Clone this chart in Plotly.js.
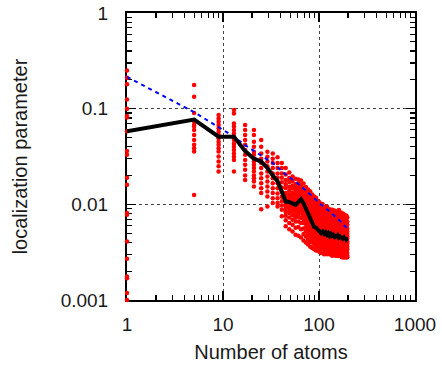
<!DOCTYPE html>
<html><head><meta charset="utf-8">
<script src="https://cdn.plot.ly/plotly-3.0.1.min.js"></script>
<style>html,body{margin:0;padding:0;background:#fff}#chart{width:442px;height:370px}</style>
</head><body><div id="chart"></div>
<script>
// ---- data ----
const atomCounts = [1,5,9,13,17,21,25,29,33,37,41,45,49,53,57,61,65,69,73,77,81,85,89,93,97,
  101,105,109,113,117,121,125,129,133,137,141,145,149,153,157,161,165,169,173,177,181,185,189,193,197];

const localizationSamples = [
  [0.25,0.21,0.18,0.125,0.10,0.084,0.081,0.058,0.036,0.033,0.019,0.016,0.0081,0.0078,0.0041,0.0027,0.00176,0.00169,0.00118,0.001],
  [0.177,0.133,0.09,0.076,0.073,0.0675,0.065,0.06,0.053,0.047,0.042,0.0386,0.0356,0.0125],
  [0.086,0.079,0.073,0.0675,0.0625,0.0575,0.053,0.049,0.045,0.042,0.0386,0.0356,0.0316,0.028,0.025,0.022],
  [0.097,0.089,0.070,0.065,0.060,0.055,0.051,0.047,0.043,0.040,0.037,0.034,0.0315,0.029,0.022],
  [0.0675,0.060,0.053,0.047,0.042,0.037,0.033,0.029,0.026,0.023,0.020,0.018],
  [0.060,0.053,0.045,0.040,0.0355,0.033,0.030,0.028,0.026,0.024,0.022,0.020,0.0187,0.0173,0.0154],
  [0.047,0.040,0.034,0.030,0.027,0.024,0.021,0.0187,0.0166,0.0147,0.0131,0.0089],
  [0.0355,0.0315,0.028,0.025,0.022,0.0195,0.0173,0.0154,0.0136,0.0121,0.0095],
  [0.034,0.030,0.027,0.024,0.021,0.0187,0.0166,0.0147,0.0131,0.0116,0.0103],
  [0.031,0.027,0.024,0.021,0.019,0.0166,0.0147,0.013,0.0116,0.0103,0.0095],
  [0.027,0.024,0.021,0.019,0.017,0.015,0.0135,0.012,0.0108,0.0097,0.0088,0.0075],
  [0.024,0.0205,0.018,0.0162,0.0148,0.0131,0.0122,0.0113,0.0104,0.0097,0.009,0.0083,0.0076,0.0068,0.0059],
  [0.0215,0.0188,0.0171,0.0153,0.0139,0.0127,0.0118,0.0109,0.0101,0.0093,0.0088,0.0081,0.0073,0.0064,0.0055],
  [0.0195,0.0175,0.0157,0.0146,0.0131,0.0121,0.0113,0.0104,0.0097,0.0091,0.0084,0.0077,0.0069,0.0061,0.0052],
  [0.0185,0.0163,0.0149,0.0137,0.0126,0.0115,0.0106,0.0099,0.0092,0.0086,0.0079,0.0073,0.0066,0.0057,0.0048],
  [0.0182,0.0166,0.0151,0.0139,0.0128,0.0119,0.011,0.0102,0.0095,0.0088,0.0081,0.0074,0.0066,0.0058,0.0047],
  [0.0178,0.016,0.0147,0.0136,0.0127,0.0118,0.011,0.0102,0.0094,0.0087,0.008,0.0072,0.0064,0.0055,0.0045],
  [0.0165,0.0148,0.0136,0.0124,0.0114,0.0106,0.0098,0.009,0.0083,0.0077,0.007,0.0064,0.0056,0.0049,0.0042],
  [0.0152,0.0138,0.0125,0.0114,0.0104,0.0096,0.0089,0.0082,0.0076,0.007,0.0064,0.0058,0.0052,0.0046,0.004],
  [0.0143,0.0128,0.0116,0.0106,0.0097,0.0089,0.0082,0.0076,0.007,0.0064,0.0059,0.0054,0.0049,0.0043,0.0038],
  [0.0136,0.012,0.0109,0.0099,0.009,0.0083,0.0076,0.007,0.0065,0.006,0.0055,0.0051,0.0046,0.0041,0.0036],
  [0.0127,0.0114,0.0102,0.0093,0.0085,0.0078,0.0071,0.0066,0.0061,0.0056,0.0052,0.0048,0.0044,0.004,0.0035],
  [0.0121,0.0107,0.0097,0.0088,0.008,0.0073,0.0067,0.0062,0.0058,0.0054,0.005,0.0046,0.0042,0.0038,0.0034],
  [0.0117,0.0103,0.0092,0.0083,0.0076,0.007,0.0064,0.006,0.0056,0.0052,0.0048,0.0045,0.0041,0.0037,0.0033],
  [0.0109,0.0099,0.0088,0.008,0.0073,0.0067,0.0062,0.0058,0.0054,0.005,0.0047,0.0043,0.004,0.0036,0.0033],
  [0.0105,0.0094,0.0085,0.0077,0.007,0.0064,0.0059,0.0055,0.0052,0.0049,0.0046,0.0042,0.0039,0.0035,0.0032],
  [0.0097,0.0089,0.0081,0.0074,0.0068,0.0063,0.0058,0.0054,0.0051,0.0047,0.0044,0.0041,0.0038,0.0034,0.0031],
  [0.0101,0.0088,0.0079,0.0072,0.0066,0.0061,0.0057,0.0053,0.005,0.0047,0.0044,0.004,0.0037,0.0034,0.0031],
  [0.0093,0.0085,0.0077,0.0071,0.0065,0.006,0.0056,0.0053,0.0049,0.0046,0.0043,0.004,0.0037,0.0033,0.003],
  [0.0091,0.0081,0.0075,0.0069,0.0063,0.0059,0.0055,0.0052,0.0049,0.0046,0.0043,0.0039,0.0036,0.0034,0.0031],
  [0.0095,0.0083,0.0074,0.0067,0.0062,0.0058,0.0054,0.0051,0.0048,0.0045,0.0042,0.0039,0.0036,0.0033,0.003],
  [0.0087,0.0079,0.0072,0.0066,0.0061,0.0057,0.0054,0.0051,0.0048,0.0045,0.0042,0.0039,0.0036,0.0033,0.0031],
  [0.0089,0.0078,0.007,0.0065,0.006,0.0056,0.0053,0.005,0.0047,0.0044,0.0041,0.0038,0.0035,0.0032,0.003],
  [0.0085,0.0077,0.0071,0.0065,0.006,0.0056,0.0052,0.0049,0.0047,0.0044,0.0041,0.0038,0.0035,0.0033,0.003],
  [0.0088,0.0076,0.0069,0.0063,0.0059,0.0055,0.0052,0.0049,0.0046,0.0043,0.004,0.0037,0.0035,0.0032,0.0029],
  [0.0083,0.0075,0.0069,0.0063,0.0058,0.0055,0.0051,0.0048,0.0046,0.0043,0.004,0.0037,0.0034,0.0032,0.003],
  [0.0086,0.0076,0.0068,0.0062,0.0058,0.0054,0.0051,0.0048,0.0045,0.0043,0.004,0.0037,0.0035,0.0032,0.003],
  [0.0081,0.0074,0.0067,0.0062,0.0057,0.0054,0.005,0.0048,0.0045,0.0042,0.004,0.0037,0.0034,0.0031,0.0029],
  [0.0084,0.0073,0.0066,0.0061,0.0057,0.0053,0.005,0.0047,0.0045,0.0042,0.0039,0.0036,0.0034,0.0031,0.0029],
  [0.008,0.0073,0.0067,0.0061,0.0056,0.0053,0.005,0.0047,0.0044,0.0042,0.0039,0.0036,0.0033,0.0031,0.0029],
  [0.0087,0.0074,0.0066,0.006,0.0056,0.0052,0.0049,0.0047,0.0044,0.0041,0.0039,0.0036,0.0034,0.0031,0.0029],
  [0.0079,0.0072,0.0065,0.006,0.0056,0.0052,0.0049,0.0046,0.0044,0.0041,0.0038,0.0036,0.0033,0.0031,0.0029],
  [0.0082,0.0071,0.0064,0.0059,0.0055,0.0052,0.0049,0.0046,0.0043,0.0041,0.0038,0.0035,0.0033,0.0031,0.0029],
  [0.0077,0.007,0.0064,0.0059,0.0055,0.0051,0.0048,0.0046,0.0043,0.0041,0.0038,0.0035,0.0033,0.003,0.0028],
  [0.008,0.007,0.0063,0.0058,0.0054,0.0051,0.0048,0.0045,0.0043,0.004,0.0038,0.0035,0.0033,0.003,0.0028],
  [0.0076,0.0069,0.0063,0.0058,0.0054,0.0051,0.0048,0.0045,0.0042,0.004,0.0037,0.0035,0.0032,0.003,0.0028],
  [0.0078,0.0068,0.0062,0.0057,0.0054,0.005,0.0047,0.0045,0.0042,0.004,0.0037,0.0035,0.0032,0.003,0.0028],
  [0.0074,0.0068,0.0062,0.0057,0.0053,0.005,0.0047,0.0044,0.0042,0.0039,0.0037,0.0034,0.0032,0.003,0.0028],
  [0.0076,0.0067,0.0061,0.0057,0.0053,0.0049,0.0047,0.0044,0.0042,0.0039,0.0037,0.0034,0.0032,0.003,0.0028],
  [0.0073,0.0066,0.0061,0.0056,0.0052,0.0049,0.0046,0.0044,0.0041,0.0039,0.0036,0.0034,0.0031,0.0029,0.0028]
];

const meanValues = [0.058,0.077,0.051,0.051,0.036,0.030,0.028,0.024,0.020,0.0175,0.0135,0.0107,0.0106,0.0103,0.0099,0.0106,0.0113,0.0103,0.0090,0.0079,
  0.0071,0.0064,0.0058,0.0057,0.0054,0.0053,0.0050,0.0052,0.0049,0.0051,0.0048,0.0050,0.0047,0.0049,0.0047,0.0048,0.0046,0.0048,0.0045,0.0047,
  0.0045,0.0046,0.0044,0.0046,0.0044,0.0045,0.0043,0.0045,0.0043,0.0044];

const fitAtoms  = [1,5,9,13,17,25,33,45,61,81,101,129,161,197];
const fitValues = [0.215,0.092,0.064,0.051,0.0415,0.0322,0.027,0.0205,0.0163,0.0127,0.0103,0.0084,0.0069,0.0056];

const xTickVals = [1,10,100,1000];
const xTickText = ['1','10','100','1000'];
const yTickVals = [0.001,0.01,0.1,1];
const yTickText = ['0.001','0.01','0.1','1'];

// ---- build traces ----
const sx = [], sy = [];
atomCounts.forEach((n, i) => localizationSamples[i].forEach(v => { sx.push(n); sy.push(v); }));

function minorTicks(vals){
  const out = [];
  for (let d = 0; d < vals.length - 1; d++) for (let k = 2; k <= 9; k++) out.push(vals[d] * k);
  return out;
}

const traces = [
  {x: sx, y: sy, type: 'scatter', mode: 'markers', cliponaxis: false,
   marker: {color: '#ff0000', size: 4.5, line: {width: 0}}, hoverinfo: 'skip'},
  {x: fitAtoms, y: fitValues, type: 'scatter', mode: 'lines', line: {color: '#0000ff', width: 2, dash: '4px,4px'}},
  {x: atomCounts, y: meanValues, type: 'scatter', mode: 'lines', line: {color: '#000000', width: 4}}
];

const tickFont = {family: 'Liberation Sans, Arial, sans-serif', size: 19, color: '#1a1a1a'};
const titleFont = {family: 'Liberation Sans, Arial, sans-serif', size: 20, color: '#1a1a1a'};

function axis(vals, text, range, title, standoff, labelOff){
  return {
    type: 'log', range: range, tickmode: 'array', tickvals: vals, ticktext: text,
    ticks: 'inside', ticklen: 9, tickwidth: 1.5, tickcolor: '#000',
    showline: true, linecolor: '#000', linewidth: 2, mirror: 'allticks',
    showgrid: true, gridcolor: '#444', griddash: 'dot', gridwidth: 1,
    zeroline: false, layer: 'below traces',
    minor: {tickmode: 'array', tickvals: minorTicks(vals), ticks: 'inside', ticklen: 5, tickwidth: 1.2, tickcolor: '#000', showgrid: false},
    tickfont: tickFont, ticklabelstandoff: labelOff,
    title: {text: title, font: titleFont, standoff: standoff},
    automargin: false, fixedrange: true
  };
}

const layout = {
  width: 442, height: 370,
  margin: {l: 127, r: 27, t: 13, b: 70},
  paper_bgcolor: '#fff', plot_bgcolor: '#fff',
  showlegend: false,
  xaxis: axis(xTickVals, xTickText, [0, 3], 'Number of atoms', 11, 6),
  yaxis: axis(yTickVals, yTickText, [-3, 0], 'localization parameter', 28, 13)
};

Plotly.newPlot('chart', traces, layout, {staticPlot: true, displayModeBar: false});
</script>
</body></html>
